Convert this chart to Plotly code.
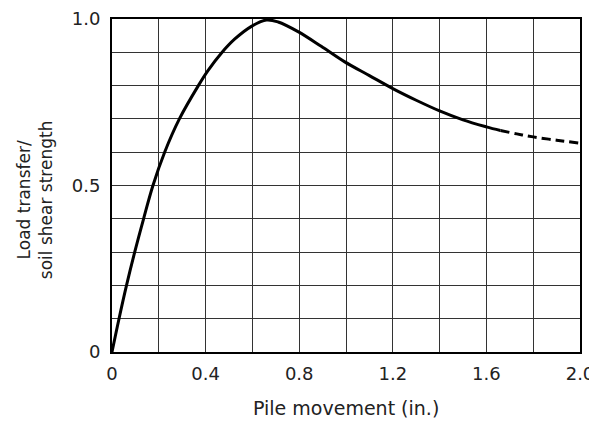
import plotly.graph_objects as go

# Data
movement = [0.0, 0.03, 0.062, 0.097, 0.135, 0.175, 0.225, 0.288, 0.369, 0.41, 0.468, 0.525, 0.596, 0.66, 0.71, 0.795, 0.894, 0.993, 1.1, 1.2, 1.3, 1.4, 1.5, 1.6, 1.66]
load_ratio = [0.0, 0.10, 0.20, 0.30, 0.40, 0.50, 0.60, 0.70, 0.80, 0.845, 0.898, 0.94, 0.978, 0.997, 0.991, 0.962, 0.918, 0.872, 0.83, 0.791, 0.756, 0.724, 0.697, 0.676, 0.665]
movement_dashed = [1.66, 1.73, 1.80, 1.9, 2.0]
load_ratio_dashed = [0.665, 0.655, 0.646, 0.636, 0.627]

x_ticks = [0, 0.2, 0.4, 0.6, 0.8, 1.0, 1.2, 1.4, 1.6, 1.8, 2.0]
x_labels = ["0", "", "0.4", "", "0.8", "", "1.2", "", "1.6", "", "2.0"]
y_ticks = [0, 0.1, 0.2, 0.3, 0.4, 0.5, 0.6, 0.7, 0.8, 0.9, 1.0]
y_labels = ["0", "", "", "", "", "0.5", "", "", "", "", "1.0"]

x_title = "Pile movement (in.)"
y_title = "Load transfer/<br>soil shear strength"

fig = go.Figure()
fig.add_trace(go.Scatter(x=movement, y=load_ratio, mode="lines",
                         line=dict(color="black", width=3, shape="spline", smoothing=1.0),
                         showlegend=False))
fig.add_trace(go.Scatter(x=movement_dashed, y=load_ratio_dashed, mode="lines",
                         line=dict(color="black", width=3, dash="9px,5px", shape="spline"),
                         showlegend=False))

font = dict(family="DejaVu Sans, Liberation Sans, sans-serif", color="#222", size=18)
fig.update_layout(
    width=597, height=421,
    margin=dict(l=104, r=25, t=11, b=77),
    paper_bgcolor="white", plot_bgcolor="white",
    font=font,
    xaxis=dict(range=[0, 2.0], tickvals=x_ticks, ticktext=x_labels, automargin=False,
               showgrid=True, gridcolor="#333", gridwidth=1.3,
               showline=True, linecolor="black", linewidth=2, mirror=True,
               zeroline=False, ticks="", tickfont=dict(size=18), ticklabelstandoff=4),
    yaxis=dict(range=[0, 1.0], tickvals=y_ticks, ticktext=y_labels, automargin=False,
               showgrid=True, gridcolor="#333", gridwidth=1.3,
               showline=True, linecolor="black", linewidth=2, mirror=True,
               zeroline=False, ticks="", tickfont=dict(size=18), ticklabelstandoff=6),
    annotations=[
        dict(text=x_title, xref="paper", yref="paper", x=0.5, y=-0.168,
             xanchor="center", yanchor="middle", showarrow=False, font=dict(size=19)),
        dict(text=y_title, xref="paper", yref="paper", x=-0.1645, y=0.456,
             xanchor="center", yanchor="middle", showarrow=False, textangle=-90,
             font=dict(size=17)),
    ],
)

fig.write_html("out.html")
